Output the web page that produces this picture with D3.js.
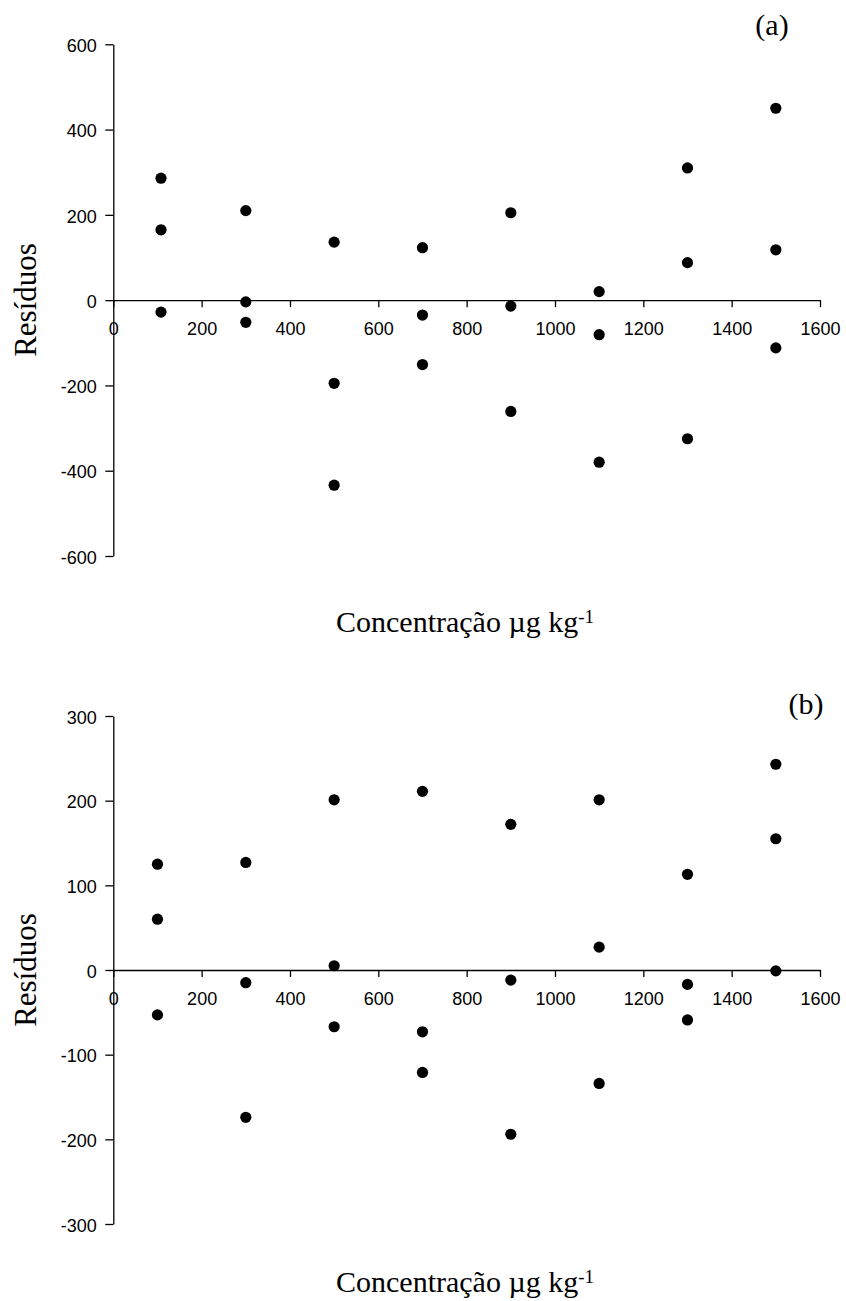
<!DOCTYPE html>
<html>
<head>
<meta charset="utf-8">
<script src="https://cdn.jsdelivr.net/npm/d3@7"></script>
<style>
  html, body { margin: 0; padding: 0; background: #fff; }
  svg { display: block; }
</style>
</head>
<body>
<svg id="chart" width="846" height="1301"></svg>
<script>
// ---- Data ----
const concentrations = [100, 300, 500, 700, 900, 1100, 1300, 1500];
// panel (a): first concentration level plotted slightly to the right in the original
const xPositionsA = [108, 300, 500, 700, 900, 1100, 1300, 1500];
const residualsA = [
  [286, 165, -28],
  [210, -4, -52],
  [136, -195, -434],
  [123, -35, -151],
  [205, -14, -261],
  [20, -81, -380],
  [310, 88, -325],
  [450, 118, -112]
];
const xPositionsB = [100, 300, 500, 700, 900, 1100, 1300, 1500];
const residualsB = [
  [125, 60, -53],
  [127, -15, -174],
  [201, 5, -67],
  [211, -73, -121],
  [172, -12, -194],
  [201, 27, -134],
  [113, -17, -59],
  [243, 155, -1]
];
const xTicks = [0, 200, 400, 600, 800, 1000, 1200, 1400, 1600];
const yTicksA = [-600, -400, -200, 0, 200, 400, 600];
const yTicksB = [-300, -200, -100, 0, 100, 200, 300];
const panelLabels = ["(a)", "(b)"];
const yTitle = "Resíduos";
const xTitle = "Concentração µg kg";
const xTitleSup = "-1";

// ---- Layout ----
const svg = d3.select("#chart");
const x = d3.scaleLinear().domain([0, 1600]).range([113.3, 820]);
const fmt = d => String(d); // plain hyphen-minus as in the original

const panels = [
  { label: panelLabels[0], xs: xPositionsA, vals: residualsA, yDomain: [-600, 600], yRange: [556, 44.3], yTicks: yTicksA,
    labelX: 772, labelY: 35, xTitleY: 632, yTitleY: 300 },
  { label: panelLabels[1], xs: xPositionsB, vals: residualsB, yDomain: [-300, 300], yRange: [1224, 716], yTicks: yTicksB,
    labelX: 806, labelY: 714, xTitleY: 1292, yTitleY: 970 }
];

panels.forEach(p => {
  const y = d3.scaleLinear().domain(p.yDomain).range(p.yRange);
  const g = svg.append("g");

  // y axis
  const ya = g.append("g")
    .attr("transform", `translate(${x(0)},0)`)
    .call(d3.axisLeft(y).tickValues(p.yTicks).tickSize(8).tickSizeOuter(0).tickPadding(8.5).tickFormat(fmt));
  // x axis at y = 0
  const xa = g.append("g")
    .attr("transform", `translate(0,${y(0)})`)
    .call(d3.axisBottom(x).tickValues(xTicks).tickSize(7).tickSizeOuter(0).tickPadding(15.5).tickFormat(fmt));

  [ya, xa].forEach(a => {
    a.selectAll("path, line").attr("stroke", "#000").attr("stroke-width", 1.3);
    a.selectAll("text").attr("fill", "#000")
      .style("font-family", "'Liberation Sans', Arial, sans-serif").style("font-size", "18px");
  });
  ya.selectAll(".tick text").attr("dy", "0.4em");

  // points
  const pts = [];
  p.xs.forEach((cx, i) => p.vals[i].forEach(v => pts.push({ cx, v })));
  g.append("g").selectAll("circle").data(pts).join("circle")
    .attr("cx", d => x(d.cx)).attr("cy", d => y(d.v)).attr("r", 5.6).attr("fill", "#000");

  // panel label
  g.append("text").attr("x", p.labelX).attr("y", p.labelY).attr("text-anchor", "middle")
    .style("font-family", "'Liberation Serif', 'Times New Roman', serif").style("font-size", "30px")
    .text(p.label);

  // y title
  g.append("text").attr("transform", `translate(36,${p.yTitleY}) rotate(-90)`).attr("text-anchor", "middle")
    .style("font-family", "'Liberation Serif', 'Times New Roman', serif").style("font-size", "31px")
    .text(yTitle);

  // x title
  const xt = g.append("text").attr("x", 465).attr("y", p.xTitleY).attr("text-anchor", "middle")
    .style("font-family", "'Liberation Serif', 'Times New Roman', serif").style("font-size", "30px");
  xt.append("tspan").text(xTitle);
  xt.append("tspan").attr("dy", "-0.5em").style("font-size", "19px").text(xTitleSup);
});
</script>
</body>
</html>
